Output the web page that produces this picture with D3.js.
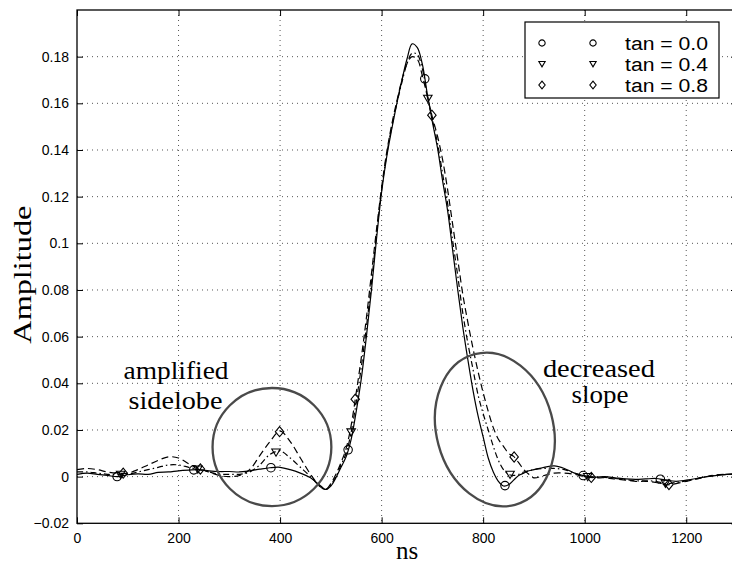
<!DOCTYPE html>
<html>
<head>
<meta charset="utf-8">
<script src="https://cdn.jsdelivr.net/npm/d3@7"></script>
<style>
body { margin: 0; background: #fff; }
svg { display: block; }
.axis text { font-family: "Liberation Sans", Arial, sans-serif; font-size: 14px; fill: #000; }
.axis path { display: none; }
.axis line { stroke: #000; stroke-width: 1; }
</style>
</head>
<body>
<div id="chart"></div>
<script>
(function(d3) {
'use strict';

// sample times (ns)
var times = [0,20,40,60,80,100,120,140,160,180,200,220,240,260,280,300,320,340,360,380,400,420,440,460,480,
  490,500,510,520,530,540,550,560,570,580,590,600,610,620,630,640,650,660,670,680,690,700,
  710,720,730,740,750,760,770,780,790,800,810,820,830,840,850,860,870,880,890,900,
  920,940,960,980,1000,1020,1040,1060,1080,1100,1120,1140,1160,1180,1200,1220,1240,1260,1280,1300];

var tan00 = [0.001,0.0015,0.001,0.0005,0.0,0.0008,0.0012,0.001,0.0018,0.002,0.0025,0.0028,0.003,0.0025,0.0022,0.0022,0.002,0.0025,0.0032,0.0038,0.004,0.003,0.0015,-0.0005,-0.004,
  -0.0055,-0.004,-0.0005,0.004,0.0085,0.016,0.028,0.042,0.060,0.080,0.102,0.122,0.137,0.149,0.160,0.170,0.179,0.1855,0.184,0.177,0.164,0.152,
  0.141,0.127,0.114,0.097,0.080,0.064,0.050,0.037,0.026,0.017,0.008,0.002,-0.002,-0.004,-0.0035,-0.0015,0.0005,0.0015,0.0025,0.003,
  0.004,0.0046,0.0035,0.0015,0.0003,-0.0002,0.0,-0.0005,-0.001,-0.0012,-0.001,-0.0008,-0.0015,-0.002,-0.0015,-0.0008,0.0,0.0005,0.001,0.001];

var tan04 = [0.002,0.002,0.0015,0.001,0.0008,0.001,0.002,0.003,0.004,0.005,0.005,0.004,0.003,0.002,0.001,0.001,0.001,0.002,0.005,0.0095,0.011,0.008,0.004,0.0,-0.0045,
  -0.0055,-0.0035,0.0,0.005,0.010,0.019,0.032,0.047,0.064,0.083,0.104,0.123,0.138,0.150,0.160,0.169,0.177,0.1815,0.181,0.175,0.163,0.153,
  0.143,0.130,0.117,0.101,0.086,0.070,0.057,0.046,0.035,0.027,0.020,0.013,0.007,0.003,0.001,0.0005,0.001,0.002,0.0025,0.003,
  0.0035,0.0035,0.003,0.0015,0.0,-0.0003,-0.0003,-0.0008,-0.0012,-0.0018,-0.0018,-0.002,-0.003,-0.0025,-0.0018,-0.001,0.0,0.0006,0.001,0.001];

var tan08 = [0.003,0.0035,0.003,0.002,0.0015,0.0015,0.003,0.005,0.007,0.0085,0.008,0.0055,0.0035,0.002,0.0005,0.0,0.0005,0.003,0.009,0.015,0.0195,0.015,0.008,0.001,-0.0045,
  -0.0055,-0.003,0.001,0.006,0.012,0.022,0.036,0.051,0.068,0.087,0.106,0.124,0.139,0.151,0.161,0.170,0.177,0.180,0.179,0.172,0.163,0.154,
  0.146,0.136,0.123,0.108,0.093,0.078,0.066,0.055,0.045,0.036,0.028,0.021,0.016,0.013,0.010,0.0087,0.006,0.003,0.001,-0.0005,
  0.0005,0.0015,0.0015,0.001,0.0,-0.0005,-0.0005,-0.001,-0.0015,-0.002,-0.002,-0.0025,-0.0035,-0.003,-0.002,-0.001,0.0,0.0008,0.001,0.0012];

// marker times per series (ns)
var marks00 = [79,230,382,534,685,843,997,1149];
var marks04 = [86,238,392,540,691,853,1006,1159];
var marks08 = [91,243,399,548,699,861,1013,1166];

var seriesNames = ['tan = 0.0', 'tan = 0.4', 'tan = 0.8'];

var xTicks = [0,200,400,600,800,1000,1200];
var yTicks = [-0.02,0,0.02,0.04,0.06,0.08,0.1,0.12,0.14,0.16,0.18];
var yTickLabels = ['\u22120.02','0','0.02','0.04','0.06','0.08','0.1','0.12','0.14','0.16','0.18'];

// annotation ellipses: [centre ns, centre amplitude, radius ns, radius amplitude, tilt deg]
var sidelobeRing = [384, 0.0127, 117, 0.0253, 0];
var slopeRing = [823, 0.0202, 115, 0.0334, -15];

var margin = {left: 77, right: 0, top: 10, bottom: 43};
var width = 660;
var height = 513.3;

var x = d3.scaleLinear().domain([0, 1300]).range([0, width]);
var y = d3.scaleLinear().domain([-0.02, 0.2]).range([height, 0]);

var svg = d3.select('#chart')
  .append('svg')
  .attr('width', 732)
  .attr('height', 566)
  .append('g')
  .attr('transform', 'translate(' + margin.left + ',' + margin.top + ')');

// dotted grid
var grid = svg.append('g');
grid.selectAll('.gx')
  .data(xTicks.slice(1))
  .enter().append('line')
  .attr('x1', function(d) { return x(d); })
  .attr('x2', function(d) { return x(d); })
  .attr('y1', 0).attr('y2', height)
  .attr('stroke', '#555').attr('stroke-width', 1).attr('stroke-dasharray', '1,4');
grid.selectAll('.gy')
  .data(yTicks.slice(1))
  .enter().append('line')
  .attr('x1', 0).attr('x2', width)
  .attr('y1', function(d) { return y(d); })
  .attr('y2', function(d) { return y(d); })
  .attr('stroke', '#555').attr('stroke-width', 1).attr('stroke-dasharray', '1,4');

// axes with inward ticks
svg.append('g')
  .attr('class', 'axis')
  .attr('transform', 'translate(0,' + height + ')')
  .call(d3.axisBottom(x).tickValues(xTicks).tickSizeInner(-6).tickSizeOuter(0).tickPadding(10).tickFormat(d3.format('d')));
svg.append('g')
  .attr('class', 'axis')
  .call(d3.axisTop(x).tickValues(xTicks).tickSizeInner(-6).tickSizeOuter(0).tickFormat(''));
svg.append('g')
  .attr('class', 'axis')
  .call(d3.axisLeft(y).tickValues(yTicks).tickSizeInner(-6).tickSizeOuter(0).tickPadding(8)
    .tickFormat(function(d, i) { return yTickLabels[i]; }));
svg.append('g')
  .attr('class', 'axis')
  .attr('transform', 'translate(' + width + ',0)')
  .call(d3.axisRight(y).tickValues(yTicks).tickSizeInner(-6).tickSizeOuter(0).tickFormat(''));

svg.append('rect')
  .attr('x', 0).attr('y', 0)
  .attr('width', width).attr('height', height)
  .attr('fill', 'none').attr('stroke', '#000').attr('stroke-width', 1.3);

// curves
var line = d3.line()
  .x(function(d) { return x(d[0]); })
  .y(function(d) { return y(d[1]); })
  .curve(d3.curveCatmullRom.alpha(0.5));

var series = [
  {vals: tan00, marks: marks00, dash: null, sym: 'circle'},
  {vals: tan04, marks: marks04, dash: '6,3,1.5,3', sym: 'tri'},
  {vals: tan08, marks: marks08, dash: '7,4', sym: 'diamond'}
];

var bisect = d3.bisector(function(d) { return d; }).left;
function valueAt(vals, t) {
  var i = bisect(times, t);
  if (i <= 0) return vals[0];
  var t0 = times[i - 1], t1 = times[i];
  return vals[i - 1] + (vals[i] - vals[i - 1]) * (t - t0) / (t1 - t0);
}

var triDown = { draw: function(c, s) { var r = Math.sqrt(s) / 2; c.moveTo(-r, -r * 0.8); c.lineTo(r, -r * 0.8); c.lineTo(0, r * 0.9); c.closePath(); } };
var diamond = { draw: function(c, s) { var r = Math.sqrt(s) / 2; c.moveTo(0, -r * 1.2); c.lineTo(r, 0); c.lineTo(0, r * 1.2); c.lineTo(-r, 0); c.closePath(); } };
function symbolPath(kind, size) {
  var type = kind === 'circle' ? d3.symbolCircle : (kind === 'tri' ? triDown : diamond);
  if (kind === 'circle') size = size * 0.78;
  return d3.symbol().type(type).size(size)();
}

var g = svg.append('g');
series.forEach(function(s) {
  g.append('path')
    .datum(times.map(function(t, i) { return [t, s.vals[i]]; }))
    .attr('d', line)
    .attr('fill', 'none')
    .attr('stroke', '#000')
    .attr('stroke-width', 1.2)
    .attr('stroke-dasharray', s.dash);
  g.selectAll(null)
    .data(s.marks)
    .enter().append('path')
    .attr('transform', function(t) { return 'translate(' + x(t) + ',' + y(valueAt(s.vals, t)) + ')'; })
    .attr('d', symbolPath(s.sym, 72))
    .attr('fill', 'none')
    .attr('stroke', '#000')
    .attr('stroke-width', 1.1);
});

// annotation rings
[sidelobeRing, slopeRing].forEach(function(r) {
  svg.append('ellipse')
    .attr('cx', 0).attr('cy', 0)
    .attr('rx', x(r[2]) - x(0))
    .attr('ry', y(0) - y(r[3]))
    .attr('transform', 'translate(' + x(r[0]) + ',' + y(r[1]) + ') rotate(' + r[4] + ')')
    .attr('fill', 'none')
    .attr('stroke', '#4a4a4a')
    .attr('stroke-width', 2.3);
});

// annotation text
var notes = [
  {text: 'amplified', t: 195, a: 0.0417, w: 105},
  {text: 'sidelobe', t: 194, a: 0.0289, w: 94},
  {text: 'decreased', t: 1028, a: 0.0429, w: 112},
  {text: 'slope', t: 1030, a: 0.0315, w: 57}
];
svg.selectAll('.note')
  .data(notes)
  .enter().append('text')
  .attr('x', function(d) { return x(d.t); })
  .attr('y', function(d) { return y(d.a); })
  .attr('text-anchor', 'middle')
  .attr('textLength', function(d) { return d.w; })
  .attr('lengthAdjust', 'spacingAndGlyphs')
  .style('font-family', '"Liberation Serif", "Times New Roman", serif')
  .style('font-size', '26px')
  .text(function(d) { return d.text; });

// axis titles
svg.append('text')
  .attr('x', x(650))
  .attr('y', height + 36)
  .attr('text-anchor', 'middle')
  .style('font-family', '"Liberation Serif", "Times New Roman", serif')
  .style('font-size', '25px')
  .text('ns');
svg.append('text')
  .attr('transform', 'translate(' + (-46) + ',' + (height / 2 + 8) + ') rotate(-90)')
  .attr('text-anchor', 'middle')
  .attr('textLength', 138)
  .attr('lengthAdjust', 'spacingAndGlyphs')
  .style('font-family', '"Liberation Serif", "Times New Roman", serif')
  .style('font-size', '26px')
  .text('Amplitude');

// legend
var legend = svg.append('g')
  .attr('transform', 'translate(' + (525 - margin.left) + ',' + (22 - margin.top) + ')');
legend.append('rect')
  .attr('width', 194).attr('height', 76)
  .attr('fill', '#fff').attr('stroke', '#000').attr('stroke-width', 1.2);
var rows = legend.selectAll('.row')
  .data(series)
  .enter().append('g')
  .attr('transform', function(d, i) { return 'translate(0,' + (21 + i * 21) + ')'; });
[17, 68].forEach(function(cx) {
  rows.append('path')
    .attr('transform', 'translate(' + cx + ',0)')
    .attr('d', function(d) { return symbolPath(d.sym, 40); })
    .attr('fill', 'none').attr('stroke', '#000').attr('stroke-width', 1.1);
});
rows.append('text')
  .attr('x', 100).attr('y', 6.5)
  .attr('textLength', 83)
  .attr('lengthAdjust', 'spacingAndGlyphs')
  .style('font-family', '"Liberation Sans", Arial, sans-serif')
  .style('font-size', '18px')
  .text(function(d, i) { return seriesNames[i]; });

})(window.d3);
</script>
</body>
</html>
